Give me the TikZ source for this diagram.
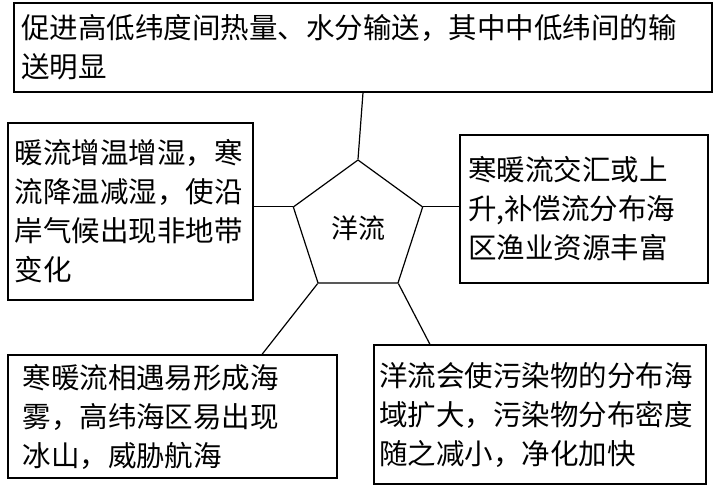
\documentclass[tikz,border=0pt]{standalone}
\usepackage{fontspec}
\setmainfont{Noto Sans CJK SC}
\usetikzlibrary{positioning}
\usetikzlibrary{shapes.geometric}
\begin{document}
\begin{tikzpicture}[x=1pt, y=-1pt, line width=1.2pt,
    box/.style = {draw, inner sep=0pt, align=left, font=\fontsize{28.5}{39}\selectfont},
    core/.style = {draw, regular polygon, regular polygon sides=5, minimum size=136pt, inner sep=0pt, font=\fontsize{27}{30}\selectfont}]
    \useasboundingbox (0,0) rectangle (720,498);
    \node[box, minimum width=698pt, minimum height=89pt, text width=684pt] (top) at (363,47.5) {促进高低纬度间热量、水分输送，其中中低纬间的输\\送明显};
    \node[box, minimum width=245pt, minimum height=177pt, text width=232pt] (left) at (130.5,211.5) {暖流增温增湿，寒\\流降温减湿，使沿\\岸气候出现非地带\\变化};
    \node[box, minimum width=248pt, minimum height=148pt, text width=232pt] (right) at (584,209) {寒暖流交汇或上\\升,补偿流分布海\\区渔业资源丰富};
    \node[box, minimum width=329pt, minimum height=123pt, text width=300pt] (bl) at (172.5,416.5) {寒暖流相遇易形成海\\雾，高纬海区易出现\\冰山，威胁航海};
    \node[box, minimum width=332pt, minimum height=139pt, text width=322pt] (br) at (540,414.5) {洋流会使污染物的分布海\\域扩大，污染物分布密度\\随之减小，净化加快};
    \node[core] (pent) at (358,228) {洋流};
    \draw (pent.corner 1) -- (top.south);
    \draw (pent.corner 2) -- (left.east |- pent.corner 2);
    \draw (pent.corner 5) -- (right.west |- pent.corner 5);
    \draw (pent.corner 3) -- (bl.north -| 262,0);
    \draw (pent.corner 4) -- (br.north -| 430,0);
\end{tikzpicture}
\end{document}
